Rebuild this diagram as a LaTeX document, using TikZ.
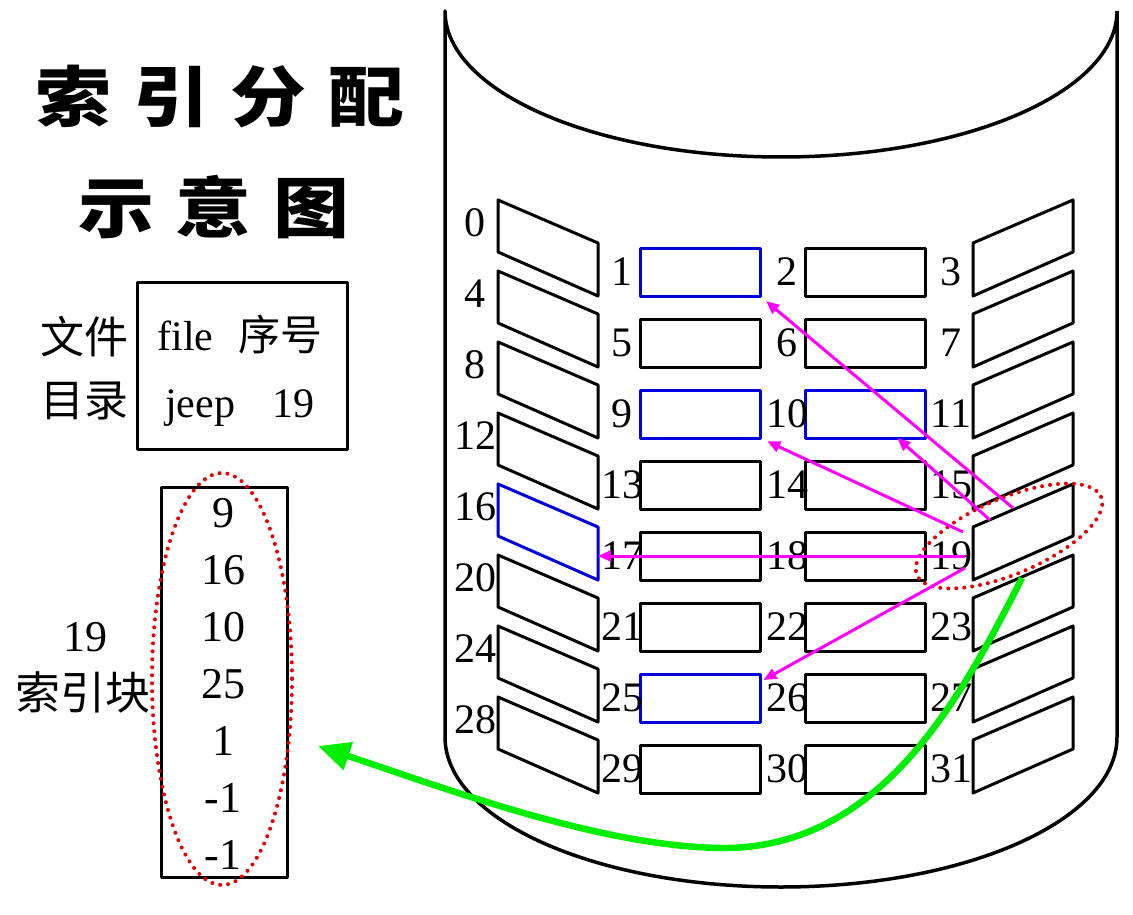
\documentclass[tikz,border=0pt]{standalone}
\usepackage{fontspec}
\setmainfont{Liberation Serif}
\newfontfamily\cjk{Noto Sans CJK SC}
\usetikzlibrary{arrows.meta}
\definecolor{diskblue}{RGB}{0,0,220}
\definecolor{ptrpink}{RGB}{255,0,255}
\definecolor{ptrgreen}{RGB}{0,238,0}
\definecolor{dotred}{RGB}{230,0,0}
\tikzset{
  blk/.style={draw, line width=3pt, minimum width=120pt, minimum height=48pt, inner sep=0pt, outer sep=0pt},
  num/.style={inner sep=0pt, font=\fontsize{42}{50}\selectfont},
  ptr/.style={ptrpink, line width=3pt, -{Triangle[length=13pt,width=11pt]}},
  reddot/.style={dotred, line width=4pt, line cap=round, dash pattern=on 0pt off 8pt},
}
\begin{document}
\begin{tikzpicture}[x=1pt, y=-1pt, line join=round]
    \useasboundingbox (0,0) rectangle (1133,915);
    \draw[line width=3.5pt] (1117,11) -- (1117,737) arc[start angle=0, end angle=180, x radius=336, y radius=150] -- (445,11)
        arc[start angle=180, end angle=0, x radius=336, y radius=146];
    \foreach \r/\lc/\mc/\nc in {0/black/diskblue/black, 1/black/black/black, 2/black/diskblue/diskblue, 3/black/black/black,
                                4/diskblue/black/black, 5/black/black/black, 6/black/diskblue/black, 7/black/black/black} {
        \pgfmathtruncatemacro{\a}{4*\r}
        \pgfmathtruncatemacro{\b}{4*\r+1}
        \pgfmathtruncatemacro{\c}{4*\r+2}
        \pgfmathtruncatemacro{\d}{4*\r+3}
        \pgfmathsetmacro{\y}{200+71*\r}
        \draw[line width=3pt, draw=\lc] (498,\y) -- ++(100,43) -- ++(0,53) -- ++(-100,-44) -- cycle;
        \draw[line width=3pt] (1073,\y) -- ++(-100,43) -- ++(0,53) -- ++(100,-44) -- cycle;
        \coordinate (b\a) at (598,\y+72);
        \coordinate (b\d) at (973,\y+72);
        \node[blk, draw=\mc] (b\b) at (700,\y+72) {};
        \node[blk, draw=\nc] (b\c) at (865.5,\y+72) {};
        \node[num] (l\a) at (475,\y+23) {\a};
        \node[num] (l\b) at (622,\y+72) {\b};
        \node[num] (l\c) at (787,\y+72) {\c};
        \node[num] (l\d) at (951,\y+72) {\d};
    }
    \node[inner sep=0pt, font=\cjk\bfseries\fontsize{66}{70}\selectfont] (title1) at (220,97) {\scalebox{1.15}[1]{索\hspace{19pt}引\hspace{19pt}分\hspace{19pt}配}};
    \node[inner sep=0pt, font=\cjk\bfseries\fontsize{66}{70}\selectfont] (title2) at (214,207) {\scalebox{1.15}[1]{示\hspace{19pt}意\hspace{19pt}图}};
    \node[draw, line width=3pt, minimum width=210pt, minimum height=167pt, inner sep=0pt, outer sep=0pt] (dir) at (242,366) {};
    \node[num, anchor=base] (dirhead) at (240,350) {file\hspace{0.6em}{\cjk 序号}};
    \node[num, anchor=base] (direntry) at (240,417) {jeep\hspace{0.9em}19};
    \node[inner sep=0pt, align=center, font=\cjk\fontsize{44}{63}\selectfont] (dirname) at (84,368) {文件\\目录};
    \node[draw, line width=3pt, minimum width=126pt, minimum height=390pt, inner sep=0pt, outer sep=0pt] (idx) at (224,682) {};
    \foreach \v [count=\i from 0] in {9,16,10,25,1,-1,-1}
        \node[num, font=\fontsize{44}{50}\selectfont] (v\i) at (223,513+57*\i) {\v};
    \node[num, font=\fontsize{44}{50}\selectfont] (idxno) at (85,637) {19};
    \node[inner sep=0pt, font=\cjk\fontsize{45}{50}\selectfont] (idxname) at (83,692) {索引块};
    \draw[reddot] (222,679) ellipse [x radius=70, y radius=206];
    \draw[reddot, rotate around={23:(1009,536)}] (1009,536) ellipse [x radius=100, y radius=38];
    \coordinate (s1) at (1013,508);
    \coordinate (s10) at (990,520);
    \coordinate (s9) at (963,532);
    \coordinate (s16) at (965,556);
    \coordinate (s25) at (965,568);
    \draw[ptr, shorten >=8pt] (s1) -- (b1.south east);
    \draw[ptr] (s10) -- (b10.-37);
    \draw[ptr, shorten >=8pt] (s9) -- (b9.south east);
    \draw[ptr] (s16) -- (b16);
    \draw[ptr, shorten >=4pt] (s25) -- (b25.15);
    \coordinate (g0) at (1022,578);
    \coordinate (gend) at (318,746);
    \draw[ptrgreen, line width=6.5pt, -{Triangle[length=32pt,width=28pt]}] (g0) .. controls (960,700) and (880,850) .. (720,848)
        .. controls (600,846) and (450,790) .. (gend);
\end{tikzpicture}
\end{document}
